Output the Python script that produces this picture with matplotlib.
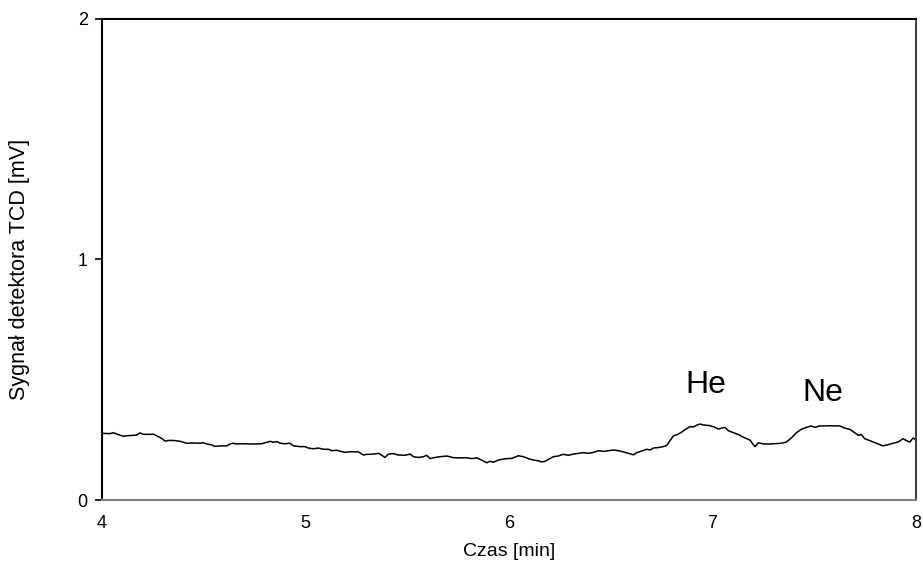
import matplotlib.pyplot as plt

plt.rcParams['font.family'] = ['Liberation Sans', 'DejaVu Sans']

# time [min] and TCD signal [mV]
czas = [
    4.006, 4.042, 4.058, 4.075, 4.107, 4.124, 4.156, 4.173, 4.189, 4.205,
    4.238, 4.254, 4.271, 4.296, 4.312, 4.336, 4.361, 4.386, 4.418, 4.451,
    4.484, 4.500, 4.517, 4.541, 4.557, 4.582, 4.615, 4.631, 4.647, 4.664,
    4.689, 4.721, 4.754, 4.787, 4.803, 4.828, 4.844, 4.861, 4.877, 4.901,
    4.926, 4.942, 4.975, 4.999, 5.016, 5.040, 5.065, 5.089, 5.114, 5.131,
    5.155, 5.180, 5.196, 5.221, 5.245, 5.261, 5.286, 5.303, 5.319, 5.335,
    5.360, 5.376, 5.392, 5.409, 5.433, 5.458, 5.491, 5.515, 5.532, 5.556,
    5.581, 5.597, 5.613, 5.638, 5.663, 5.696, 5.728, 5.761, 5.794, 5.818,
    5.843, 5.867, 5.892, 5.908, 5.924, 5.949, 5.973, 5.990, 6.015, 6.047,
    6.072, 6.096, 6.121, 6.145, 6.162, 6.178, 6.195, 6.219, 6.244, 6.268,
    6.293, 6.317, 6.342, 6.366, 6.391, 6.416, 6.440, 6.465, 6.489, 6.514,
    6.538, 6.563, 6.587, 6.612, 6.629, 6.653, 6.678, 6.694, 6.710, 6.735,
    6.759, 6.776, 6.792, 6.808, 6.833, 6.850, 6.874, 6.890, 6.907, 6.923,
    6.940, 6.956, 6.989, 7.013, 7.030, 7.046, 7.062, 7.079, 7.103, 7.128,
    7.152, 7.185, 7.201, 7.210, 7.226, 7.251, 7.283, 7.316, 7.339, 7.364,
    7.388, 7.413, 7.437, 7.462, 7.486, 7.503, 7.527, 7.552, 7.577, 7.601,
    7.626, 7.650, 7.675, 7.699, 7.716, 7.732, 7.748, 7.773, 7.806, 7.838,
    7.863, 7.888, 7.912, 7.937, 7.953, 7.970, 7.986, 8.000,
]
sygnal = [
    0.277, 0.276, 0.280, 0.274, 0.265, 0.267, 0.269, 0.270, 0.279, 0.273,
    0.273, 0.274, 0.267, 0.256, 0.245, 0.248, 0.247, 0.244, 0.236, 0.237,
    0.236, 0.238, 0.233, 0.229, 0.223, 0.225, 0.225, 0.233, 0.236, 0.233,
    0.234, 0.233, 0.233, 0.234, 0.238, 0.244, 0.240, 0.243, 0.236, 0.234,
    0.236, 0.225, 0.222, 0.222, 0.216, 0.213, 0.216, 0.211, 0.211, 0.205,
    0.207, 0.201, 0.198, 0.201, 0.200, 0.200, 0.187, 0.190, 0.190, 0.191,
    0.194, 0.186, 0.177, 0.191, 0.193, 0.187, 0.186, 0.191, 0.180, 0.177,
    0.180, 0.186, 0.172, 0.177, 0.180, 0.183, 0.176, 0.175, 0.176, 0.172,
    0.175, 0.166, 0.155, 0.161, 0.157, 0.166, 0.170, 0.172, 0.173, 0.184,
    0.180, 0.172, 0.166, 0.163, 0.158, 0.161, 0.169, 0.180, 0.183, 0.190,
    0.186, 0.191, 0.194, 0.197, 0.194, 0.198, 0.205, 0.202, 0.205, 0.208,
    0.205, 0.200, 0.194, 0.188, 0.197, 0.204, 0.211, 0.208, 0.216, 0.218,
    0.222, 0.227, 0.247, 0.266, 0.274, 0.283, 0.297, 0.305, 0.304, 0.311,
    0.316, 0.312, 0.309, 0.302, 0.295, 0.299, 0.302, 0.288, 0.280, 0.272,
    0.261, 0.249, 0.230, 0.222, 0.238, 0.233, 0.233, 0.235, 0.236, 0.241,
    0.258, 0.280, 0.294, 0.302, 0.308, 0.302, 0.308, 0.308, 0.309, 0.308,
    0.308, 0.299, 0.294, 0.280, 0.269, 0.272, 0.255, 0.247, 0.236, 0.225,
    0.230, 0.236, 0.241, 0.255, 0.247, 0.241, 0.258, 0.249,
]

peaks = ['He', 'Ne']
peak_pos = [(6.967, 0.48), (7.544, 0.445)]

fig = plt.figure(figsize=(9.23, 5.7), dpi=100)
ax = fig.add_axes([0.110, 0.1228, 0.8824, 0.8439])

ax.plot(czas, sygnal, color='black', linewidth=1.1)

for name, (px, py) in zip(peaks, peak_pos):
    ax.text(px, py, name, fontsize=23, ha='center', va='center')

ax.set_xlim(4, 8)
ax.set_ylim(0, 2)
ax.set_xticks([4, 5, 6, 7, 8])
ax.set_yticks([0, 1, 2])
ax.tick_params(axis='x', length=0, labelsize=13, pad=11)
ax.tick_params(axis='y', length=5, width=1.2, direction='out', labelsize=13, pad=5)

ax.spines['left'].set_color('black')
ax.spines['top'].set_color('black')
ax.spines['right'].set_color('#404040')
ax.spines['bottom'].set_color('#808080')
for s in ax.spines.values():
    s.set_linewidth(1.5)

ax.set_xlabel('Czas [min]', fontsize=14, labelpad=8)
ax.set_ylabel('Sygnał detektora TCD [mV]', fontsize=15.5)
ax.yaxis.set_label_coords(-0.088, 0.48)

fig.savefig('out.png', dpi=100)
